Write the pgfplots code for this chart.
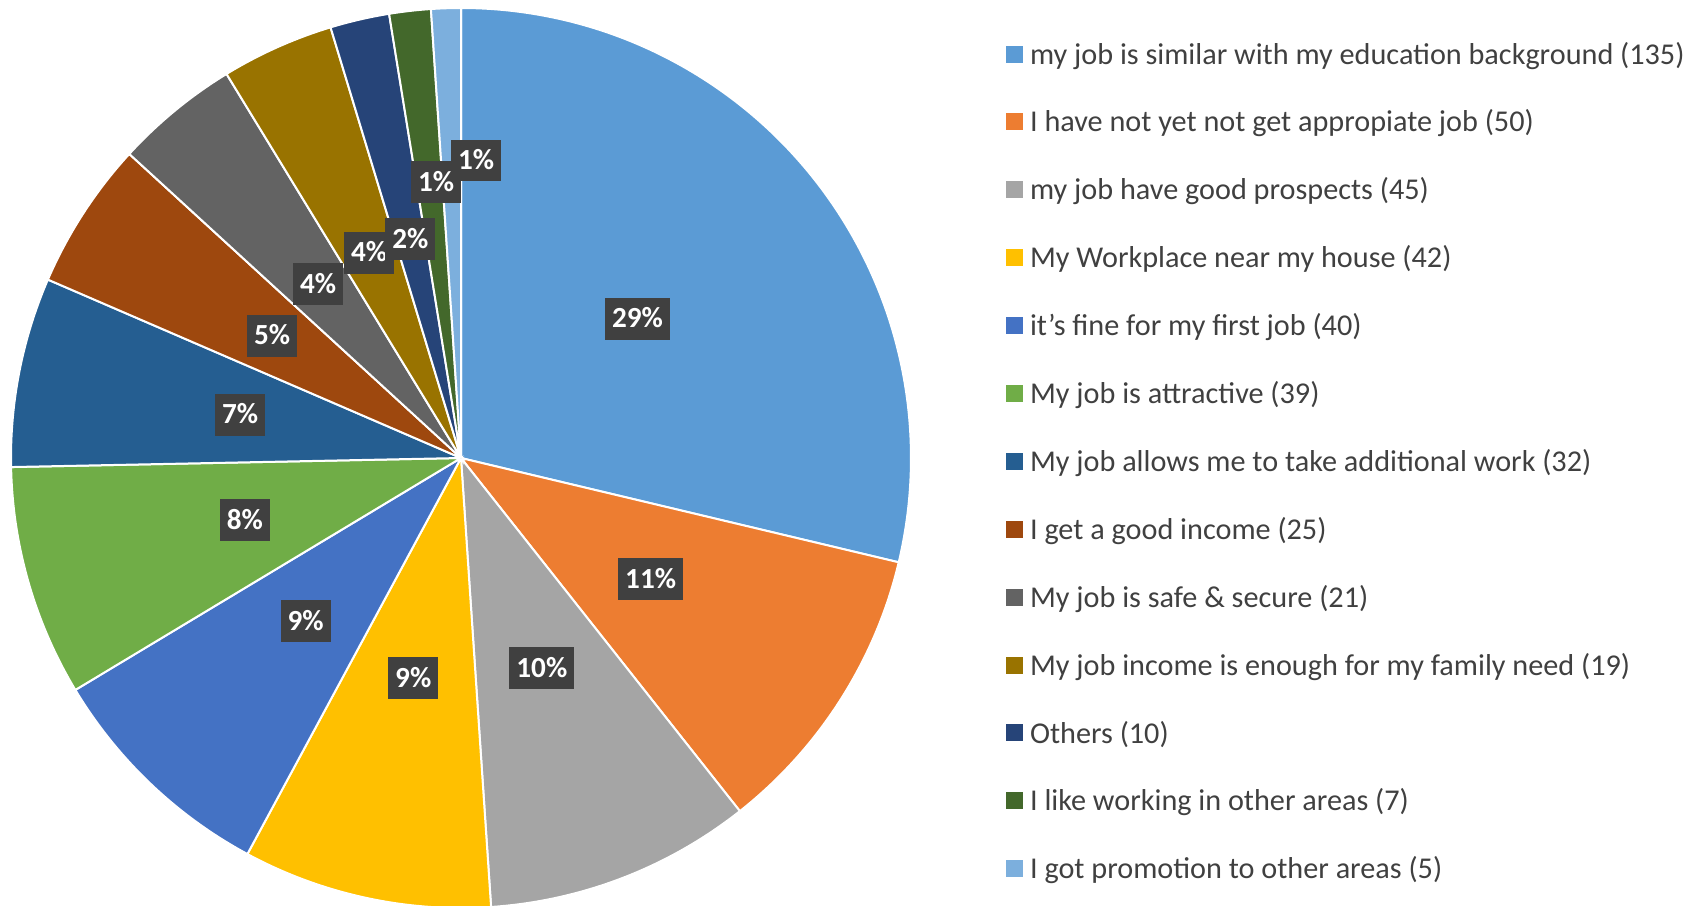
\documentclass[border=0pt]{standalone}
\usepackage{pgfplots}
\pgfplotsset{compat=1.18}
\usepackage{fontspec}
\setmainfont{Carlito}
\definecolor{c1}{HTML}{5B9BD5}
\definecolor{c2}{HTML}{ED7D31}
\definecolor{c3}{HTML}{A5A5A5}
\definecolor{c4}{HTML}{FFC000}
\definecolor{c5}{HTML}{4472C4}
\definecolor{c6}{HTML}{70AD47}
\definecolor{c7}{HTML}{255E91}
\definecolor{c8}{HTML}{9E480E}
\definecolor{c9}{HTML}{636363}
\definecolor{c10}{HTML}{997300}
\definecolor{c11}{HTML}{264478}
\definecolor{c12}{HTML}{43682B}
\definecolor{c13}{HTML}{7CAFDD}
\definecolor{lbl}{HTML}{404040}
\definecolor{txt}{HTML}{404040}
\pgfplotsset{
  sqleg/.style={legend image code/.code={\fill[##1] (0cm,-0.085cm) rectangle (0.17cm,0.085cm);}},
}
\tikzset{pct/.style={fill=lbl, text=white, font=\fontsize{8.3}{10}\selectfont\bfseries,
  inner xsep=0.07cm, inner ysep=0.1175cm, text height=0.185cm, text depth=0cm}}
% value / colour / percent label / label radius / label angle offset
\def\slices{135/c1/29/0.5/0, 50/c2/11/0.5/0, 45/c3/10/0.5/0, 42/c4/9/0.5/0,
  40/c5/9/0.5/0, 39/c6/8/0.5/0, 32/c7/7/0.5/0, 25/c8/5/0.5/0, 21/c9/4/0.5/0,
  19/c10/4/0.5/0, 10/c11/2/0.5/0, 7/c12/1/0.615/-1.36, 5/c13/1/0.662/-4.83}
\def\total{470}
\begin{document}
\begin{tikzpicture}
\useasboundingbox (0,0) rectangle (16.96cm,9.05cm);
\begin{axis}[
  at={(4.61cm,4.47cm)}, anchor=center,
  scale only axis, x=4.5cm, y=4.5cm,
  xmin=-1, xmax=1, ymin=-1, ymax=1,
  hide axis, clip=false,
  legend style={
    at={(axis description cs:1.1056,0.96)}, anchor=north west,
    draw=none, fill=none, inner sep=0pt, outer sep=0pt,
    row sep=0.479cm, column sep=0.07cm,
    font=\fontsize{8.6}{10}\selectfont, text=txt,
    nodes={inner sep=0pt, text height=0.2cm, text depth=0cm},
  },
  legend cell align=left,
]
\gdef\cum{0}
\foreach \v/\c/\p/\r/\o in \slices {
  \pgfmathsetmacro{\sa}{90-\cum/\total*360}
  \pgfmathsetmacro{\newcum}{\cum+\v}
  \global\let\cum\newcum
  \pgfmathsetmacro{\ea}{90-\cum/\total*360}
  \edef\temp{\noexpand\fill[\c, draw=white, line width=0.02cm] (axis cs:0,0) -- (axis cs:{cos(\sa)},{sin(\sa)}) arc[start angle=\sa, end angle=\ea, radius=4.5cm] -- cycle;}
  \temp
}
\gdef\cum{0}
\foreach \v/\c/\p/\r/\o in \slices {
  \pgfmathsetmacro{\sa}{90-\cum/\total*360}
  \pgfmathsetmacro{\newcum}{\cum+\v}
  \global\let\cum\newcum
  \pgfmathsetmacro{\ea}{90-\cum/\total*360}
  \pgfmathsetmacro{\ma}{(\sa+\ea)/2+\o}
  \edef\temp{\noexpand\node[pct] at (axis cs:{\r*cos(\ma)},{\r*sin(\ma)}) {\p\noexpand\%};}
  \temp
}
\addlegendimage{sqleg, fill=c1, draw=none}
\addlegendentry{my job is similar with my education background (135)}
\addlegendimage{sqleg, fill=c2, draw=none}
\addlegendentry{I have not yet not get appropiate job (50)}
\addlegendimage{sqleg, fill=c3, draw=none}
\addlegendentry{my job have good prospects (45)}
\addlegendimage{sqleg, fill=c4, draw=none}
\addlegendentry{My Workplace near my house (42)}
\addlegendimage{sqleg, fill=c5, draw=none}
\addlegendentry{it{\char"0027}s fine for my first job (40)}
\addlegendimage{sqleg, fill=c6, draw=none}
\addlegendentry{My job is attractive (39)}
\addlegendimage{sqleg, fill=c7, draw=none}
\addlegendentry{My job allows me to take additional work (32)}
\addlegendimage{sqleg, fill=c8, draw=none}
\addlegendentry{I get a good income (25)}
\addlegendimage{sqleg, fill=c9, draw=none}
\addlegendentry{My job is safe \& secure (21)}
\addlegendimage{sqleg, fill=c10, draw=none}
\addlegendentry{My job income is enough for my family need (19)}
\addlegendimage{sqleg, fill=c11, draw=none}
\addlegendentry{Others (10)}
\addlegendimage{sqleg, fill=c12, draw=none}
\addlegendentry{I like working in other areas (7)}
\addlegendimage{sqleg, fill=c13, draw=none}
\addlegendentry{I got promotion to other areas (5)}
\end{axis}
\end{tikzpicture}
\end{document}
